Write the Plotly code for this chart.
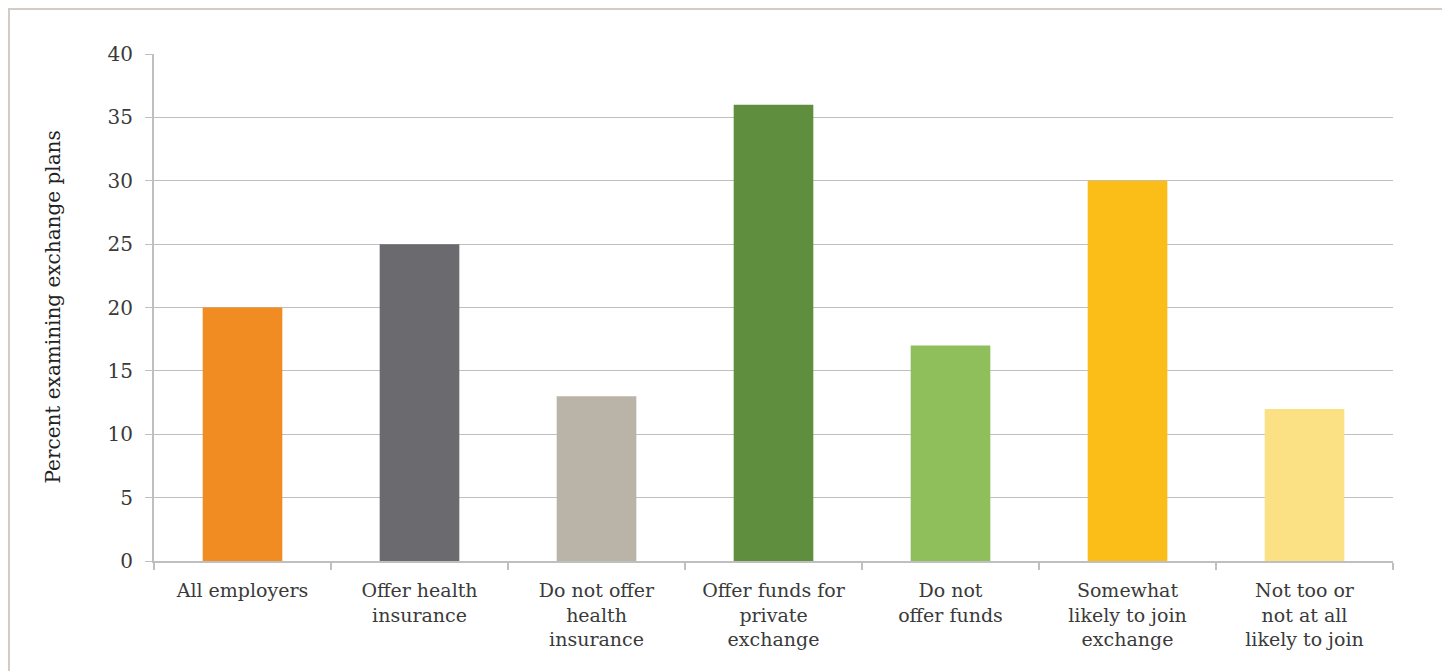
import plotly.graph_objects as go

categories = ["All employers", "Offer health<br>insurance", "Do not offer<br>health<br>insurance",
              "Offer funds for<br>private<br>exchange", "Do not<br>offer funds",
              "Somewhat<br>likely to join<br>exchange", "Not too or<br>not at all<br>likely to join"]
values = [20, 25, 13, 36, 17, 30, 12]
colors = ["#F08C21", "#6B6A6E", "#BAB3A8", "#5F8F3E", "#8FBF5A", "#FBBD17", "#FBE183"]
y_ticks = [0, 5, 10, 15, 20, 25, 30, 35, 40]
y_title = "Percent examining exchange plans"

# page body has an 8px margin, so the figure is 8px smaller and offset
W, H = 1442, 663
L, R, T, B = 146, 57, 46, 110
pw, ph = W - L - R, H - T - B

fig = go.Figure(go.Bar(x=categories, y=values, marker=dict(color=colors, line=dict(width=0)),
                       width=0.45))

font_family = "DejaVu Serif"
fig.update_layout(
    width=W, height=H,
    margin=dict(l=L, r=R, t=T, b=B, autoexpand=False),
    paper_bgcolor="white", plot_bgcolor="white",
    font=dict(family=font_family, color="#3a3a3a", size=19),
    showlegend=False,
)
fig.update_xaxes(
    automargin=False,
    showline=True, linecolor="#bfbfbf", linewidth=2,
    ticks="outside", tickson="boundaries", ticklen=7, tickcolor="#bfbfbf", tickwidth=2,
    tickfont=dict(size=19, family=font_family, color="#3a3a3a"),
    ticklabelstandoff=11,
    showgrid=False,
)
fig.update_yaxes(
    automargin=False,
    range=[0, 40], tickvals=y_ticks,
    showline=True, linecolor="#bfbfbf", linewidth=2,
    ticks="outside", ticklen=7, tickcolor="#bfbfbf", tickwidth=1,
    showgrid=True, gridcolor="#bfbfbf", gridwidth=1,
    zeroline=False,
    ticklabelstandoff=8,
    tickfont=dict(size=20, family=font_family, color="#3a3a3a"),
)

fig.add_annotation(text=y_title, xref="paper", yref="paper",
                   x=(44 - L) / pw, y=0.5, textangle=-90, showarrow=False,
                   xanchor="center", yanchor="middle",
                   font=dict(size=20, family=font_family, color="#222"))

# outer frame
x0 = (1 - L) / pw
x1 = (1438 - L) / pw
y1 = (H - B - 1) / ph
fig.add_shape(type="rect", xref="paper", yref="paper", x0=x0, x1=x1, y0=-0.5, y1=y1,
              line=dict(color="#d4ccc4", width=2), fillcolor="rgba(0,0,0,0)", layer="below")

fig.write_html("out.html")
